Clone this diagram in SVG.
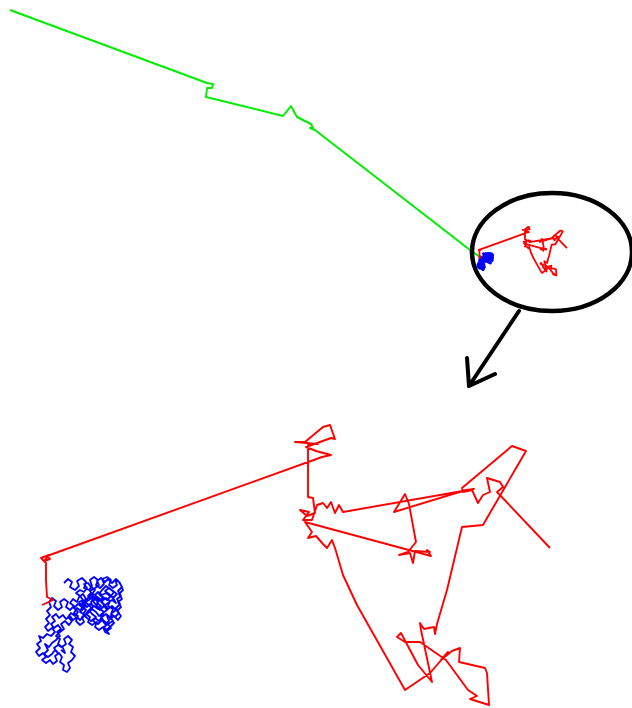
<svg xmlns="http://www.w3.org/2000/svg" xmlns:xlink="http://www.w3.org/1999/xlink" width="632" height="708" viewBox="0 0 632 708">
<style>
.g{fill:none;stroke:#00ee00;stroke-width:2;stroke-linejoin:round}
.r{fill:none;stroke:#ff0000;stroke-linejoin:round;vector-effect:non-scaling-stroke}
.b{fill:none;stroke:#0000ff;stroke-linejoin:round;vector-effect:non-scaling-stroke}
.k{fill:none;stroke:#000;stroke-linecap:round;stroke-linejoin:round}
</style>
<defs>
<path id="bluewalk" class="b" d="M64,583 68,579 72,582 70,587 75,590 79,586 77,581 82,578 86,582 84,588 89,590 92,586 90,580 94,577 98,580 96,585 100,588 104,584 102,579 107,577 111,580 109,585 113,588 117,585 115,580 119,582 122,587 118,591 121,596 117,599 120,604 116,608 119,613 115,617 111,614 113,609 108,606 110,601 106,598 102,601 104,606 100,610 96,607 98,602 94,598 91,602 93,607 89,610 92,614 96,617 93,621 98,624 102,620 105,624 109,621 107,616 111,618 114,623 110,627 106,630 109,634 105,632 103,627 99,630 95,627 97,622 92,625 88,622 90,617 86,614 82,617 84,622 80,625 76,621 78,616 74,613 77,608 81,611 85,607 82,603 86,599 83,594 79,597 77,602 73,599 70,603 74,606 70,610 66,607 68,602 64,599 60,602 62,607 58,610 54,606 56,601 52,598 49,602 51,607 47,611 50,615 46,619 49,623 45,627 48,631 52,628 55,632 51,636 47,634 43,638 39,636 41,641 37,644 40,648 36,652 39,656 43,653 46,657 42,660 46,663 50,660 53,664 57,661 55,656 59,653 62,657 60,662 64,665 63,670 67,672 70,668 68,663 72,660 75,656 71,652 73,647 69,644 72,640 68,636 64,639 66,644 62,647 58,644 60,639 56,636 60,632 64,629 61,624 65,621 69,625 72,621 68,617 71,613 75,616 78,612 74,608 78,604 82,607 80,612 85,615 88,611 92,609 96,612 99,616 103,613 107,610 104,606 108,603 112,600 116,603 113,598 109,594 105,591 109,588 113,591 117,594 114,597 110,596 106,593 102,595 98,592 95,595 91,593 88,596 92,599 96,596 100,599 97,603 101,606 98,609 94,606 90,604 87,607 84,603 89,600 93,596 90,591 95,588 99,585 97,581 101,578 105,582 108,579 112,583 116,579 120,583 123,590 119,594 122,599 118,602 121,607 117,611 121,616 118,620 114,616 110,619 112,613 116,610 112,606 108,609 105,605 101,602 103,597 107,600 111,596 114,592 110,589 106,586 102,590 99,594 103,598 99,601 96,598 93,601 96,605 100,609 104,612 101,617 104,621 108,624 104,627 107,631 111,628 108,624 113,621 110,617 106,614 102,617 99,621 95,618 91,621 87,618 83,614 86,610 82,606 79,602 83,600 80,596 76,593 80,590 84,592 87,588 84,584 88,583 91,587 95,590 92,594 88,598 85,602 89,605 92,609 88,613 84,616 80,620 77,617 73,620 70,616 66,619 63,615 59,618 56,614 52,617 55,621 51,624 54,628 58,625 61,629 57,632 60,636 56,640 52,643 49,647 45,644 48,650 44,654 48,657 52,654 55,650 58,653 54,648 58,645 63,648 65,653 61,650"/>
<path id="redwalk" class="r" d="M42,605 53,600 47,597 46,580 46,563 41,558 49,555 44,561 50,559 47,556 322,457 331,455 316,451 306,447 331,438 335,439 330,425 323,427 305,442 295,442 318,444 308,444 308,497 313,498 315,513 307,516 300,510 309,512 303,520 312,520 317,505 323,503 327,508 331,502 335,513 339,505 343,512 474,489 466,490 394,512 405,494 409,504 416,542 408,552 399,555 410,553 413,563 415,551 430,552 427,550 431,556 305,522 312,532 308,538 316,536 323,544 327,548 332,540 335,548 338,558 343,575 357,605 405,690 430,673 443,658 448,652 441,660 452,651 460,648 459,662 485,668 487,673 489,705 470,699 477,696 468,690 446,660 420,642 405,642 397,637 401,633 418,665 432,682 421,630 420,623 424,629 434,627 435,634 437,624 447,590 462,527 483,525 526,451 512,446 462,488 463,492 472,490 478,503 483,495 490,492 487,478 500,482 503,487 497,492 550,548"/>
</defs>
<g id="connectors">
<polyline class="g" points="10,10 207,83 213,84 212,88 207,88 206,97 283,116 291,106 297,117 311,124 313,128 310,128 315,130 470,250 480,257"/>
<path id="arrow" class="k" stroke-width="4" d="M519,311 469,386 M467,358 469,386 495,374"/>
</g>
<g id="zoom-circle">
<ellipse cx="552" cy="252" rx="80" ry="59" class="k" stroke-width="4.5"/>
<use xlink:href="#bluewalk" href="#bluewalk" stroke-width="2.6" transform="matrix(0.1736 0 0 0.1736 471.5 153.1)"/>
<use xlink:href="#redwalk" href="#redwalk" stroke-width="1.8" transform="matrix(0.1736 0 0 0.1736 471.5 153.1)"/>
</g>
<g id="magnified">
<use xlink:href="#bluewalk" href="#bluewalk" stroke-width="1.8"/>
<use xlink:href="#redwalk" href="#redwalk" stroke-width="1.9"/>
</g>
</svg>
